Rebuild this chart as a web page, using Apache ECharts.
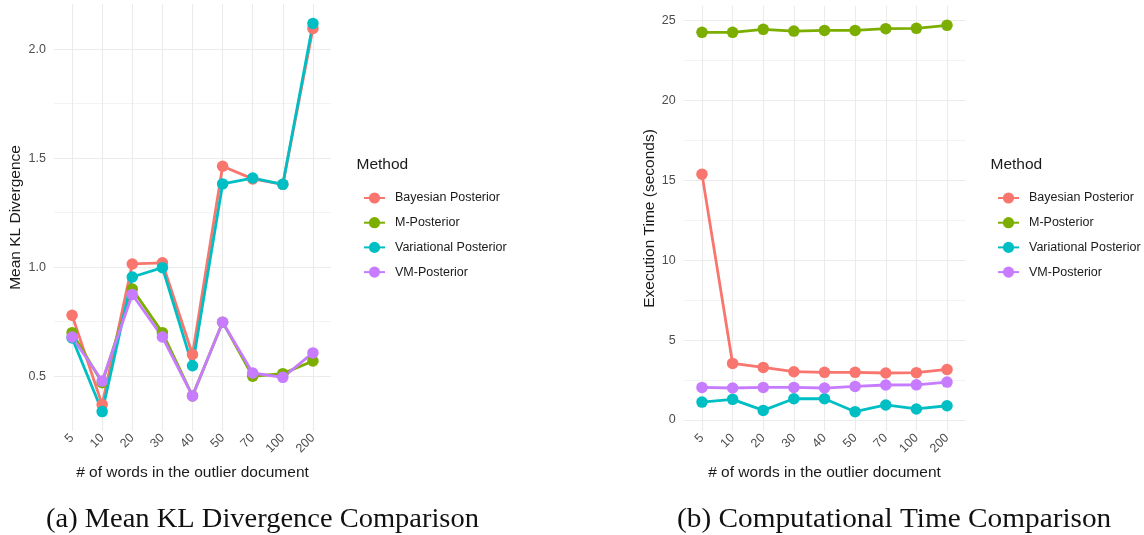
<!DOCTYPE html>
<html><head><meta charset="utf-8">
<script src="https://cdn.jsdelivr.net/npm/echarts@6/dist/echarts.min.js"></script>
<style>html,body{margin:0;padding:0;background:#fff}#c{width:1144px;height:535px}</style>
</head><body><div id="c"></div>
<script>
const categories = ['5','10','20','30','40','50','70','100','200'];
const methods = ['Bayesian Posterior','M-Posterior','Variational Posterior','VM-Posterior'];
const colors = ['#F8766D','#7CAE00','#00BFC4','#C77CFF'];
const klBayesian = [0.78,0.37,1.015,1.02,0.60,1.463,1.405,1.38,2.095];
const klM = [0.70,0.47,0.90,0.70,0.41,0.748,0.50,0.512,0.57];
const klVariational = [0.676,0.338,0.955,0.998,0.548,1.382,1.409,1.38,2.118];
const klVM = [0.68,0.478,0.875,0.68,0.41,0.748,0.515,0.495,0.607];
const timeBayesian = [15.38,3.54,3.29,3.02,2.98,2.98,2.94,2.96,3.16];
const timeM = [24.25,24.25,24.44,24.33,24.37,24.37,24.48,24.5,24.69];
const timeVariational = [1.12,1.29,0.60,1.33,1.33,0.52,0.94,0.69,0.89];
const timeVM = [2.04,2.0,2.04,2.04,2.0,2.1,2.19,2.2,2.37];
const klTicks = [0.5,1.0,1.5,2.0];
const klMinor = [0.75,1.25,1.75];
const timeTicks = [0,5,10,15,20,25];
const timeMinor = [2.5,7.5,12.5,17.5,22.5];

const klSeries = [klBayesian, klM, klVariational, klVM];
const timeSeries = [timeBayesian, timeM, timeVariational, timeVM];

function range(arrs){
  const all = [].concat(...arrs);
  const lo = Math.min(...all), hi = Math.max(...all), d = hi - lo;
  return [lo - 0.05*d, hi + 0.05*d];
}
const klR = range(klSeries), tR = range(timeSeries);
const idx = categories.map((c,i)=>i);
const FONT = 'Liberation Sans';
const gridCol = '#EBEBEB';

function xAxis(gi){
  return {
    type:'value', gridIndex:gi, min:-0.6, max:categories.length-1+0.6,
    axisLine:{show:false},
    axisTick:{show:false, customValues: idx},
    axisLabel:{customValues: idx, formatter: v => categories[Math.round(v)], rotate:45,
      fontSize:12.5, color:'#4D4D4D', fontFamily:FONT, margin:5},
    splitLine:{show:true, lineStyle:{color:gridCol, width:1.1}},
    name:'# of words in the outlier document', nameLocation:'middle', nameGap:34,
    nameTextStyle:{fontSize:15.5, color:'#1a1a1a', fontFamily:FONT}
  };
}
function yMajor(gi, r, ticks, name, gap){
  return {
    type:'value', gridIndex:gi, min:r[0], max:r[1],
    axisLine:{show:false},
    axisTick:{show:false, customValues: ticks},
    axisLabel:{customValues: ticks, fontSize:12.5, color:'#4D4D4D', fontFamily:FONT, margin:8,
      formatter: v => (gi===0 ? v.toFixed(1) : String(v))},
    splitLine:{show:true, lineStyle:{color:gridCol, width:1.1}},
    name:name, nameLocation:'middle', nameGap:gap, nameRotate:90,
    nameTextStyle:{fontSize:15.5, color:'#1a1a1a', fontFamily:FONT}
  };
}
function yMinor(gi, r, ticks){
  return {
    type:'value', gridIndex:gi, min:r[0], max:r[1],
    axisLine:{show:false}, axisTick:{show:false, customValues: ticks},
    axisLabel:{show:false, customValues: ticks},
    splitLine:{show:true, lineStyle:{color:gridCol, width:0.6}}
  };
}

const series = [];
[klSeries, timeSeries].forEach((group, gi) => {
  group.forEach((vals, si) => {
    series.push({
      type:'line', name:methods[si], xAxisIndex:gi, yAxisIndex:gi*2,
      data: vals.map((v,i)=>[i,v]),
      symbol:'circle', symbolSize:11.5, showSymbol:true,
      lineStyle:{width:2.8, color:colors[si]}, itemStyle:{color:colors[si]},
      emphasis:{disabled:true}, animation:false, clip:false
    });
  });
});

function legend(left){
  return {
    orient:'vertical', left:left, top:186, itemWidth:21, itemHeight:14, itemGap:10.7,
    data:methods, selectedMode:false,
    textStyle:{fontSize:12.5, color:'#1a1a1a', fontFamily:FONT, padding:[0,0,0,5], lineHeight:14}
  };
}

const capFont = '27px "Liberation Serif"';
const chart = echarts.init(document.getElementById('c'), null, {renderer:'canvas'});
chart.setOption({
  backgroundColor:'#fff',
  animation:false,
  grid:[
    {left:54, top:4, width:277, height:427},
    {left:683.6, top:6, width:281.8, height:425}
  ],
  xAxis:[xAxis(0), xAxis(1)],
  yAxis:[
    yMajor(0, klR, klTicks, 'Mean KL Divergence', 30), yMinor(0, klR, klMinor),
    yMajor(1, tR, timeTicks, 'Execution Time (seconds)', 26), yMinor(1, tR, timeMinor)
  ],
  legend:[legend(358), legend(992)],
  series: series,
  graphic:[
    {type:'text', left:356.5, top:157, style:{text:'Method', font:'15.5px "Liberation Sans"', fill:'#1a1a1a'}},
    {type:'text', left:990.5, top:157, style:{text:'Method', font:'15.5px "Liberation Sans"', fill:'#1a1a1a'}},
    {type:'text', x:46, y:520, scaleX:1.055, style:{text:'(a) Mean KL Divergence Comparison', font:capFont, fill:'#111', align:'left', verticalAlign:'middle'}},
    {type:'text', x:677, y:520, scaleX:1.085, style:{text:'(b) Computational Time Comparison', font:capFont, fill:'#111', align:'left', verticalAlign:'middle'}}
  ]
});
</script></body></html>
